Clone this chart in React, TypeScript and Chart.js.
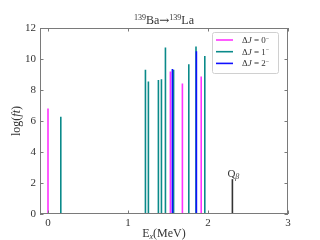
import React, { useEffect, useRef } from "react";
import { Chart, registerables } from "chart.js";
Chart.register(...registerables);

const dJ0Energies = [0, 1.53, 1.68, 1.915];
const dJ0LogFt = [6.8, 9.2, 8.42, 8.87];
const dJ1Energies = [0.16, 1.218, 1.255, 1.38, 1.418, 1.468, 1.57, 1.76, 1.85, 1.96];
const dJ1LogFt = [6.27, 9.3, 8.55, 8.65, 8.7, 10.75, 9.3, 9.66, 10.8, 10.2];
const dJ2Energies = [1.555, 1.855];
const dJ2LogFt = [9.35, 10.5];
const qBetaEnergy = [2.305];
const qBetaHeight = [2.25];
const xTicks = [0, 1, 2, 3];
const yTicks = [0, 2, 4, 6, 8, 10, 12];
const seriesLabels = ["0", "1", "2"];
const seriesColors = ["#ff33ff", "#0a8a8a", "#1010ff"];

const SERIF = "'Liberation Serif', 'DejaVu Serif', serif";

function stems(xs: number[], ys: number[]) {
  const out: any[] = [];
  xs.forEach((x, i) => {
    out.push({ x, y: 0 });
    out.push({ x, y: ys[i] });
    out.push({ x, y: null });
  });
  return out;
}

type Seg = { t: string; size: number; dy?: number; italic?: boolean; fam?: string };
function fontOf(s: Seg) {
  return `${s.italic ? "italic " : ""}${s.size}px ${s.fam || SERIF}`;
}
function richWidth(ctx: CanvasRenderingContext2D, segs: Seg[]) {
  let w = 0;
  for (const s of segs) {
    ctx.font = fontOf(s);
    w += ctx.measureText(s.t).width;
  }
  return w;
}
function drawRich(ctx: CanvasRenderingContext2D, segs: Seg[], x: number, y: number) {
  let cx = x;
  for (const s of segs) {
    ctx.font = fontOf(s);
    ctx.fillText(s.t, cx, y + (s.dy || 0));
    cx += ctx.measureText(s.t).width;
  }
}

const decor = {
  id: "decor",
  afterDatasetsDraw(chart: any) {
    const ctx: CanvasRenderingContext2D = chart.ctx;
    const { left, right, top, bottom } = chart.chartArea;
    const xs = chart.scales.x;
    const ys = chart.scales.y;
    ctx.save();
    // frame
    ctx.strokeStyle = "#7a7a7a";
    ctx.lineWidth = 1;
    ctx.strokeRect(left + 0.5, top + 0.5, right - left - 1, bottom - top - 1);
    // inward ticks
    ctx.beginPath();
    for (const v of xTicks) {
      const px = Math.round(xs.getPixelForValue(v)) + 0.5;
      ctx.moveTo(px, bottom);
      ctx.lineTo(px, bottom - 3.5);
      ctx.moveTo(px, top);
      ctx.lineTo(px, top + 3.5);
    }
    for (const v of yTicks) {
      const py = Math.round(ys.getPixelForValue(v)) + 0.5;
      ctx.moveTo(left, py);
      ctx.lineTo(left + 3.5, py);
      ctx.moveTo(right, py);
      ctx.lineTo(right - 3.5, py);
    }
    ctx.stroke();

    ctx.fillStyle = "#333";
    ctx.textBaseline = "alphabetic";
    ctx.textAlign = "left";
    // title
    const title: Seg[] = [
      { t: "139", size: 8, dy: -4 },
      { t: "Ba", size: 12 },
      { t: "→", size: 12, fam: "'DejaVu Serif', serif" },
      { t: "139", size: 8, dy: -4 },
      { t: "La", size: 12 },
    ];
    const tw = richWidth(ctx, title);
    drawRich(ctx, title, (left + right) / 2 - tw / 2, 24);

    // x label
    const xl: Seg[] = [
      { t: "E", size: 12 },
      { t: "x", size: 8, dy: 2, italic: true },
      { t: "(MeV)", size: 12 },
    ];
    const xw = richWidth(ctx, xl);
    drawRich(ctx, xl, (left + right) / 2 - xw / 2, 237);

    // y label
    const yl: Seg[] = [
      { t: "log(", size: 12 },
      { t: "ft", size: 12, italic: true },
      { t: ")", size: 12 },
    ];
    const yw = richWidth(ctx, yl);
    ctx.save();
    ctx.translate(20, (top + bottom) / 2);
    ctx.rotate(-Math.PI / 2);
    drawRich(ctx, yl, -yw / 2, 0);
    ctx.restore();

    // Q beta label
    const qx = xs.getPixelForValue(qBetaEnergy[0]);
    const qy = ys.getPixelForValue(qBetaHeight[0]);
    drawRich(ctx, [{ t: "Q", size: 11 }, { t: "β", size: 8, dy: 2, italic: true }], qx - 5, qy - 2);

    // legend
    const lx = 212, ly = 32, lw = 66, lh = 41;
    ctx.fillStyle = "rgba(255,255,255,0.85)";
    ctx.strokeStyle = "#d0d0d0";
    ctx.lineWidth = 1;
    ctx.beginPath();
    (ctx as any).roundRect ? (ctx as any).roundRect(lx + 0.5, ly + 0.5, lw, lh, 2) : ctx.rect(lx + 0.5, ly + 0.5, lw, lh);
    ctx.fill();
    ctx.stroke();
    seriesLabels.forEach((lab, i) => {
      const yy = 40 + i * 11.7;
      ctx.strokeStyle = seriesColors[i];
      ctx.lineWidth = 1.6;
      ctx.beginPath();
      ctx.moveTo(216, yy);
      ctx.lineTo(233, yy);
      ctx.stroke();
      ctx.fillStyle = "#333";
      drawRich(
        ctx,
        [
          { t: "Δ", size: 9 },
          { t: "J", size: 9, italic: true },
          { t: " = " + lab, size: 9 },
          { t: "−", size: 6, dy: -3.5 },
        ],
        242,
        yy + 3
      );
    });
    ctx.restore();
  },
};

export default function App() {
  const ref = useRef<HTMLCanvasElement>(null);
  useEffect(() => {
    document.body.style.margin = "0";
    const lineDs = (label: string, data: any[], color: string, order: number) => ({
      type: "line" as const,
      label,
      data,
      borderColor: color,
      backgroundColor: color,
      borderWidth: 1.6,
      pointRadius: 0,
      showLine: true,
      spanGaps: false,
      borderCapStyle: "butt" as const,
      order,
    });
    const chart = new Chart(ref.current!, {
      type: "scatter",
      data: {
        datasets: [
          lineDs("ΔJ = 1−", stems(dJ1Energies, dJ1LogFt), seriesColors[1], 3),
          lineDs("ΔJ = 0−", stems(dJ0Energies, dJ0LogFt), seriesColors[0], 2),
          lineDs("ΔJ = 2−", stems(dJ2Energies, dJ2LogFt), seriesColors[2], 1),
          lineDs("Qβ", stems(qBetaEnergy, qBetaHeight), "#333333", 0),
        ],
      },
      options: {
        responsive: false,
        animation: false,
        layout: { padding: { top: 28, right: 32, left: 0, bottom: 0 } },
        plugins: { legend: { display: false }, tooltip: { enabled: false }, title: { display: false } },
        scales: {
          x: {
            type: "linear",
            min: -0.1,
            max: 3,
            afterBuildTicks: (s: any) => {
              s.ticks = xTicks.map((v) => ({ value: v }));
            },
            afterFit: (s: any) => {
              s.height = 26;
            },
            grid: { display: true, drawOnChartArea: false, drawTicks: false },
            border: { display: false },
            ticks: { padding: 3, color: "#333", font: { family: SERIF, size: 11 } },
          },
          y: {
            type: "linear",
            min: 0,
            max: 12,
            afterBuildTicks: (s: any) => {
              s.ticks = yTicks.map((v) => ({ value: v }));
            },
            afterFit: (s: any) => {
              s.width = 40;
            },
            grid: { display: true, drawOnChartArea: false, drawTicks: false },
            border: { display: false },
            ticks: { padding: 4, color: "#333", font: { family: SERIF, size: 11 } },
          },
        },
      },
      plugins: [decor],
    });
    return () => chart.destroy();
  }, []);
  return <canvas ref={ref} width={320} height={240} style={{ display: "block" }} />;
}
